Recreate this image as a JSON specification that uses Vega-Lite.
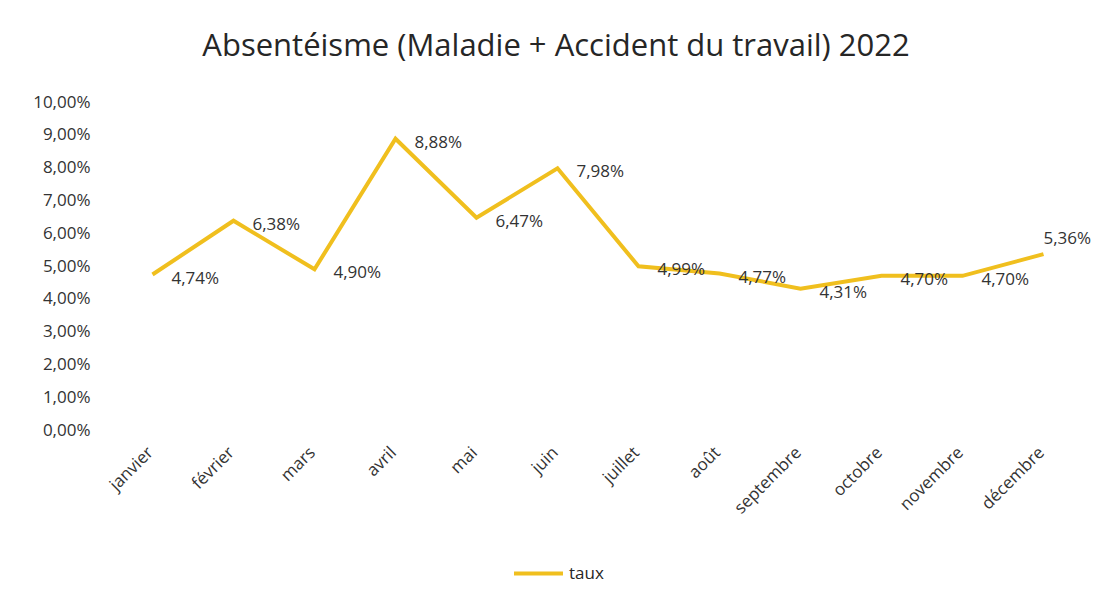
{
  "$schema": "https://vega.github.io/schema/vega-lite/v6.json",
  "autosize": "none",
  "width": 972,
  "height": 328,
  "padding": {"left": 112, "top": 102, "right": 21, "bottom": 168},
  "background": "white",
  "config": {
    "locale": {"number": {"decimal": ",", "thousands": " ", "grouping": [3], "currency": ["", " €"], "percent": "%"}},
    "view": {"stroke": null},
    "font": "Open Sans"
  },
  "title": {
    "text": "Absentéisme  (Maladie + Accident du travail) 2022",
    "font": "Open Sans",
    "fontSize": 31,
    "fontWeight": "normal",
    "color": "#262626",
    "anchor": "middle",
    "dx": -42,
    "offset": 30
  },
  "data": {
    "values": [
      {"mois": "janvier", "taux": 0.0474},
      {"mois": "février", "taux": 0.0638},
      {"mois": "mars", "taux": 0.0490},
      {"mois": "avril", "taux": 0.0888},
      {"mois": "mai", "taux": 0.0647},
      {"mois": "juin", "taux": 0.0798},
      {"mois": "juillet", "taux": 0.0499},
      {"mois": "août", "taux": 0.0477},
      {"mois": "septembre", "taux": 0.0431},
      {"mois": "octobre", "taux": 0.0470},
      {"mois": "novembre", "taux": 0.0470},
      {"mois": "décembre", "taux": 0.0536}
    ]
  },
  "encoding": {
    "x": {
      "field": "mois", "type": "ordinal", "sort": null,
      "scale": {"type": "point", "padding": 0.5},
      "axis": {
        "title": null, "domain": false, "ticks": false, "grid": false,
        "labelAngle": -45, "labelAlign": "right", "labelBaseline": "top",
        "labelFontSize": 17, "labelColor": "#333333", "labelPadding": 14, "labelOffset": -8,
        "labelFont": "Open Sans"
      }
    },
    "y": {
      "field": "taux", "type": "quantitative",
      "scale": {"domain": [0, 0.1], "nice": false},
      "axis": {
        "title": null, "domain": false, "ticks": false, "grid": false,
        "values": [0, 0.01, 0.02, 0.03, 0.04, 0.05, 0.06, 0.07, 0.08, 0.09, 0.1],
        "format": ".2%", "labelFontSize": 17, "labelColor": "#333333",
        "labelPadding": 22, "labelFont": "Open Sans"
      }
    }
  },
  "layer": [
    {
      "mark": {"type": "line", "strokeWidth": 4, "strokeJoin": "miter"},
      "encoding": {
        "color": {
          "datum": "taux", "type": "nominal",
          "scale": {"range": ["#F0BF1E"]},
          "legend": {
            "title": null, "orient": "none", "legendX": 400, "legendY": 445,
            "symbolType": "stroke", "symbolStrokeWidth": 4, "symbolSize": 2400,
            "labelOffset": 4,
            "labelFontSize": 17, "labelColor": "#262626", "labelFont": "Open Sans"
          }
        }
      }
    },
    {
      "transform": [{"filter": "datum.mois !== 'décembre'"}],
      "mark": {"type": "text", "align": "left", "baseline": "middle", "dx": 19, "dy": 4, "fontSize": 17, "color": "#333333", "font": "Open Sans"},
      "encoding": {
        "text": {"field": "taux", "type": "quantitative", "format": ".2%"}
      }
    },
    {
      "transform": [{"filter": "datum.mois === 'décembre'"}],
      "mark": {"type": "text", "align": "left", "baseline": "middle", "dx": 0, "dy": -15, "fontSize": 17, "color": "#333333", "font": "Open Sans"},
      "encoding": {
        "text": {"field": "taux", "type": "quantitative", "format": ".2%"}
      }
    }
  ]
}
